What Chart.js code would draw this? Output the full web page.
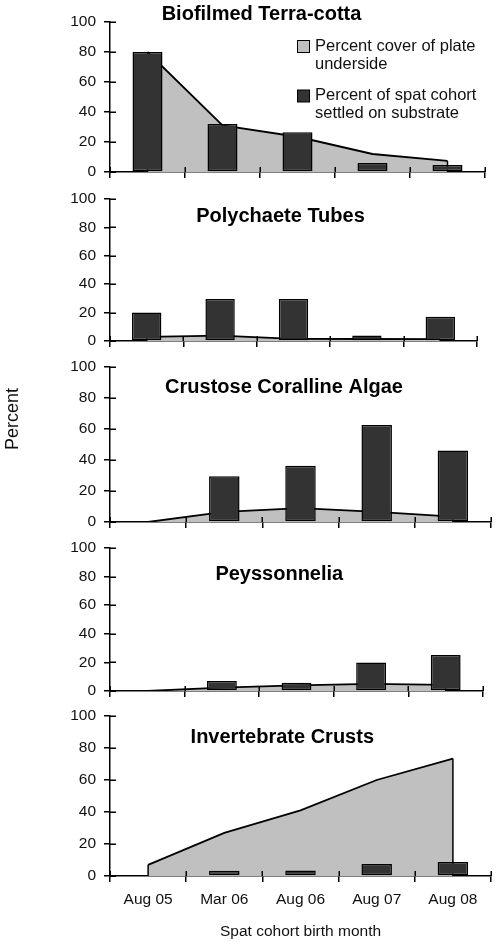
<!DOCTYPE html>
<html><head><meta charset="utf-8">
<script src="https://cdn.jsdelivr.net/npm/chart.js@4/dist/chart.umd.min.js"></script>
<style>
html,body{margin:0;padding:0;background:#fff;width:498px;height:945px;overflow:hidden}
canvas{position:absolute;left:0}
</style></head><body>
<canvas id="c0" width="498" height="185" style="top:0px"></canvas>
<canvas id="c1" width="498" height="165" style="top:185px"></canvas>
<canvas id="c2" width="498" height="180" style="top:350px"></canvas>
<canvas id="c3" width="498" height="170" style="top:530px"></canvas>
<canvas id="c4" width="498" height="245" style="top:700px"></canvas>
<script>
// ---- data ----
const categories = ["Aug 05", "Mar 06", "Aug 06", "Aug 07", "Aug 08"];
const panelTitles = ["Biofilmed Terra-cotta", "Polychaete Tubes", "Crustose Coralline Algae", "Peyssonnelia", "Invertebrate Crusts"];
const coverBiofilm = [80, 31, 23.5, 12, 7.4];
const spatBiofilm = [80, 32, 26.5, 6, 4.7];
const coverPolychaete = [2.9, 3.8, 1.5, 1.4, 1.3];
const spatPolychaete = [20, 29.5, 29.5, 3.8, 17];
const coverCoralline = [0, 6.5, 9, 6.5, 3.5];
const spatCoralline = [0, 29.5, 36.3, 62.6, 46.2];
const coverPeyssonnelia = [0, 2.4, 4, 5, 4.3];
const spatPeyssonnelia = [0, 7, 5.8, 19.9, 25.2];
const coverInvertebrate = [7, 27, 41, 60, 73.4];
const spatInvertebrate = [0, 3.3, 3.4, 7.5, 8.7];
const coverLabel = ["Percent cover of plate", "underside"];
const spatLabel = ["Percent of spat cohort", "settled on substrate"];
const yAxisTitle = "Percent";
const xAxisTitle = "Spat cohort birth month";
const yMin = 0, yMax = 100, yStep = 20;

const coverSeries = [coverBiofilm, coverPolychaete, coverCoralline, coverPeyssonnelia, coverInvertebrate];
const spatSeries = [spatBiofilm, spatPolychaete, spatCoralline, spatPeyssonnelia, spatInvertebrate];

// ---- layout ----
const FONT = '"Liberation Sans", Arial, Helvetica, sans-serif';
const layouts = [
  {padTop: 22, xHeight: 13, padRight: 13, titleX: 261.5, titleY: 20},
  {padTop: 14, xHeight: 9, padRight: 21, titleX: 280.5, titleY: 36.7},
  {padTop: 17, xHeight: 8, padRight: 7, titleX: 284, titleY: 43.3},
  {padTop: 18, xHeight: 9, padRight: 15, titleX: 279.3, titleY: 50},
  {padTop: 16, xHeight: 69, padRight: 7, titleX: 282.3, titleY: 43.3}
];

const decor = {
  id: 'decor',
  afterDatasetDraw(chart, args) {
    if (args.index !== 1) return;
    const pts = args.meta.data;
    const y0 = chart.scales.y.getPixelForValue(0);
    const ctx = chart.ctx;
    ctx.save();
    ctx.strokeStyle = '#000';
    ctx.lineWidth = 1.5;
    [pts[0], pts[pts.length - 1]].forEach(p => {
      ctx.beginPath(); ctx.moveTo(p.x, p.y); ctx.lineTo(p.x, y0); ctx.stroke();
    });
    ctx.restore();
  },
  afterDraw(chart) {
    const o = chart.options.plugins.decor;
    const ctx = chart.ctx;
    const ys = chart.scales.y, xs = chart.scales.x;
    const ca = chart.chartArea;
    ctx.save();
    ctx.strokeStyle = '#000';
    ctx.lineWidth = 1.5;
    // inner halves of crossing tick marks
    ys.ticks.forEach(t => {
      const y = Math.round(ys.getPixelForValue(t.value)) + 0.25;
      ctx.beginPath(); ctx.moveTo(ca.left, y); ctx.lineTo(ca.left + 6, y); ctx.stroke();
    });
    const w = xs.getPixelForValue(1) - xs.getPixelForValue(0);
    for (let i = 0; i <= categories.length; i++) {
      const x = Math.round(xs.getPixelForValue(0) + (i - 0.5) * w) + 0.25;
      ctx.beginPath(); ctx.moveTo(x, ca.bottom - 5); ctx.lineTo(x, ca.bottom); ctx.stroke();
    }
    // panel title
    ctx.fillStyle = '#000';
    ctx.font = 'bold 20px ' + FONT;
    ctx.textAlign = 'center';
    ctx.textBaseline = 'alphabetic';
    ctx.fillText(o.title, o.titleX, o.titleY);
    // legend
    if (o.legend) {
      const items = [
        {fill: '#c0c0c0', lines: coverLabel, sy: 40.5, ty: 46.5},
        {fill: '#333333', lines: spatLabel, sy: 90, ty: 95.5}
      ];
      ctx.font = '16.5px ' + FONT;
      ctx.textAlign = 'left';
      ctx.textBaseline = 'middle';
      items.forEach(it => {
        ctx.fillStyle = it.fill;
        ctx.fillRect(297.5, it.sy, 12, 12);
        ctx.lineWidth = 1;
        ctx.strokeRect(297.5, it.sy, 12, 12);
        ctx.fillStyle = '#111';
        it.lines.forEach((ln, k) => ctx.fillText(ln, 315, it.ty + k * 17.5));
      });
    }
    if (o.yTitle) {
      ctx.translate(13, 69);
      ctx.rotate(-Math.PI / 2);
      ctx.font = '18px ' + FONT;
      ctx.fillStyle = '#111';
      ctx.textAlign = 'center';
      ctx.textBaseline = 'middle';
      ctx.fillText(yAxisTitle, 0, 0);
    }
    ctx.restore();
  }
};

for (let p = 0; p < 5; p++) {
  const L = layouts[p];
  const last = p === 4;
  new Chart(document.getElementById('c' + p), {
    type: 'bar',
    data: {
      labels: categories,
      datasets: [
        {
          type: 'bar', label: spatLabel.join(' '), data: spatSeries[p],
          backgroundColor: '#333333', borderColor: '#000', borderWidth: 1.5,
          borderSkipped: false, barPercentage: 0.4, categoryPercentage: 1.0, order: 1
        },
        {
          type: 'line', label: coverLabel.join(' '), data: coverSeries[p],
          backgroundColor: '#c0c0c0', borderColor: '#000', borderWidth: 1.8,
          fill: 'origin', pointRadius: 0, tension: 0, order: 2
        }
      ]
    },
    options: {
      responsive: false, animation: false, devicePixelRatio: 1,
      layout: {padding: {top: L.padTop, right: L.padRight, left: 0, bottom: 0}},
      plugins: {
        legend: {display: false}, title: {display: false}, tooltip: {enabled: false},
        decor: {title: panelTitles[p], titleX: L.titleX, titleY: L.titleY, legend: p === 0, yTitle: p === 2}
      },
      scales: {
        x: {
          offset: true,
          grid: {display: true, offset: true, drawOnChartArea: false, drawTicks: true, tickLength: 6, color: '#000', lineWidth: 1.5},
          border: {display: true, color: '#000', width: 1.5},
          ticks: {display: last, color: '#111', font: {family: FONT, size: 15.5}, padding: 8, maxRotation: 0},
          title: {display: last, text: xAxisTitle, color: '#111', font: {family: FONT, size: 15.5}, padding: {top: 4, bottom: 4}},
          afterFit(s) { s.height = L.xHeight; s.paddingLeft = 0; s.paddingRight = 0; }
        },
        y: {
          min: yMin, max: yMax,
          grid: {display: true, drawOnChartArea: false, drawTicks: true, tickLength: 6, color: '#000', lineWidth: 1.5},
          border: {display: true, color: '#000', width: 1.5},
          ticks: {stepSize: yStep, color: '#111', font: {family: FONT, size: 15.5}, padding: 8},
          afterFit(s) { s.width = 110; s.paddingTop = 0; s.paddingBottom = 0; }
        }
      }
    },
    plugins: [decor]
  });
}
</script>
</body></html>
